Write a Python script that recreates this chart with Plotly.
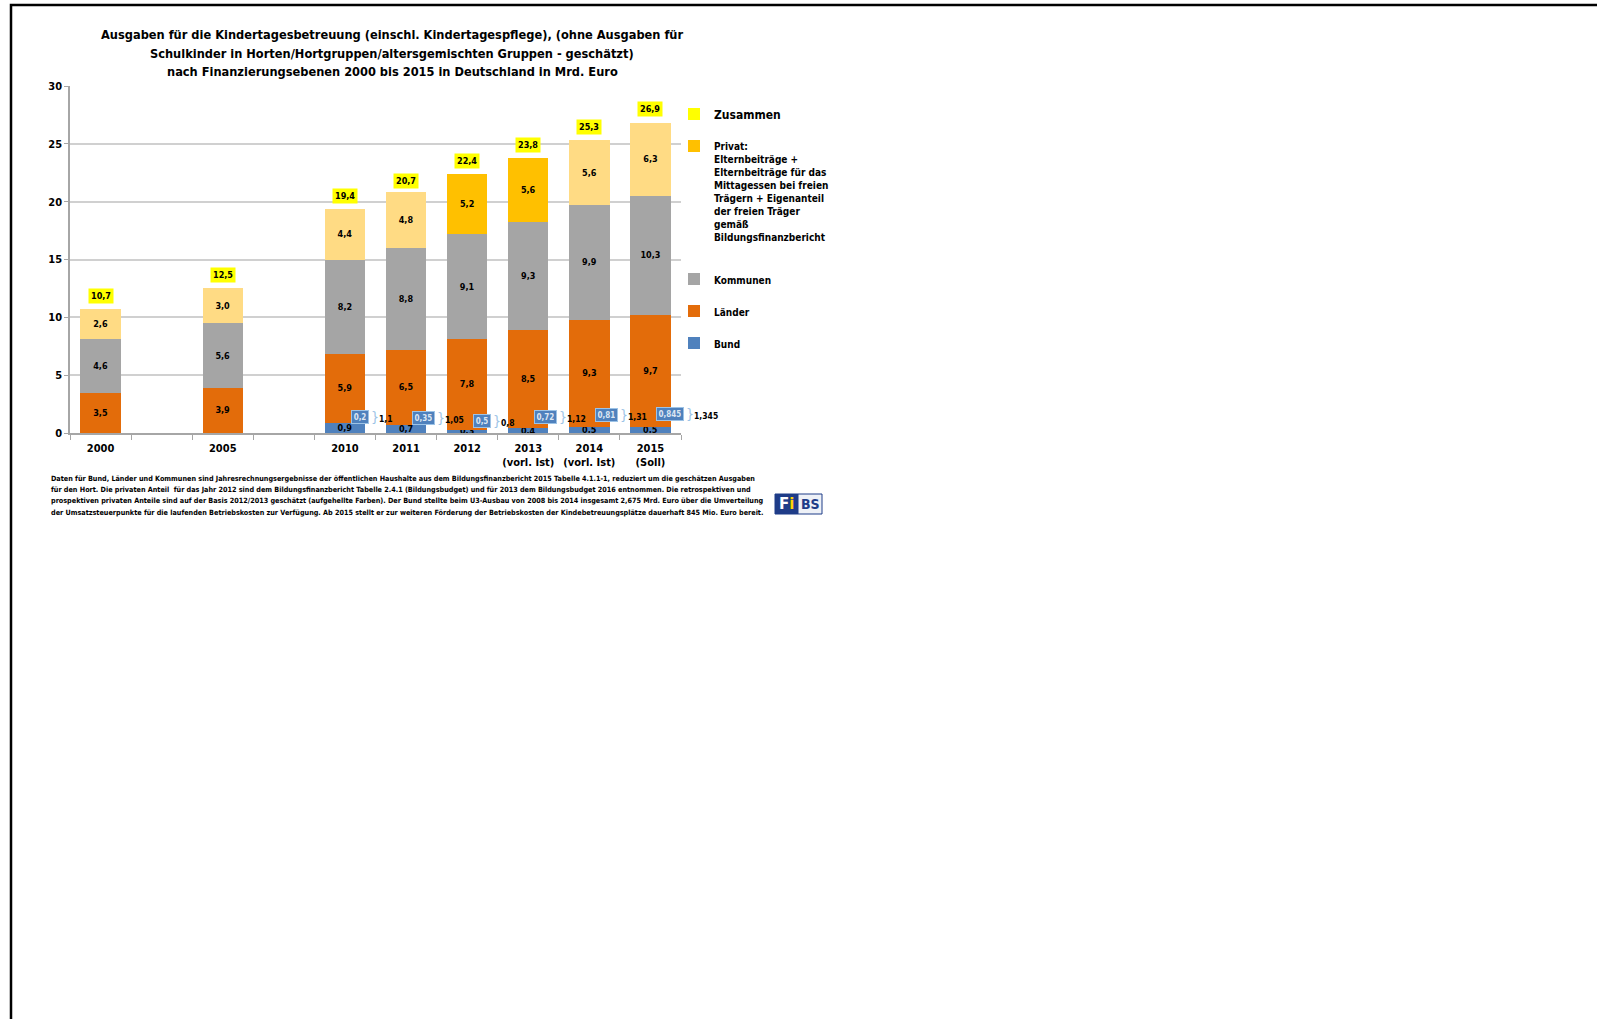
import plotly.graph_objects as go

# ---------------- data ----------------
categories = ["2000", "\u2002", "2005", "\u2003", "2010", "2011", "2012",
              "2013<br>(vorl. Ist)", "2014<br>(vorl. Ist)", "2015<br>(Soll)"]
bund = [None, None, None, None, 0.9, 0.7, 0.3, 0.4, 0.5, 0.5]
laender = [3.5, None, 3.9, None, 5.9, 6.5, 7.8, 8.5, 9.3, 9.7]
kommunen = [4.6, None, 5.6, None, 8.2, 8.8, 9.1, 9.3, 9.9, 10.3]
privat_geschaetzt = [2.6, None, 3.0, None, 4.4, 4.8, None, None, 5.6, 6.3]
privat_ist = [None, None, None, None, None, None, 5.2, 5.6, None, None]
zusammen = [10.7, None, 12.5, None, 19.4, 20.7, 22.4, 23.8, 25.3, 26.9]
bund_u3 = [None, None, None, None, 0.2, 0.35, 0.5, 0.72, 0.81, 0.845]
bund_gesamt = [None, None, None, None, 1.1, 1.05, 0.8, 1.12, 1.31, 1.345]

privat_name = ("Privat:<br>Elternbeiträge +<br>Elternbeiträge für das<br>Mittagessen bei freien"
               "<br>Trägern + Eigenanteil<br>der freien Träger<br>gemäß<br>Bildungsfinanzbericht<br>\u00a0")
title_lines = ["Ausgaben für die Kindertagesbetreuung (einschl. Kindertagespflege), (ohne Ausgaben für",
               "Schulkinder in Horten/Hortgruppen/altersgemischten Gruppen - geschätzt)",
               "nach Finanzierungsebenen 2000 bis 2015 in Deutschland in Mrd. Euro"]
footnote_lines = [
    "Daten für Bund, Länder und Kommunen sind Jahresrechnungsergebnisse der öffentlichen Haushalte aus dem Bildungsfinanzbericht 2015 Tabelle 4.1.1-1, reduziert um die geschätzen Ausgaben",
    "für den Hort. Die privaten Anteil  für das Jahr 2012 sind dem Bildungsfinanzbericht Tabelle 2.4.1 (Bildungsbudget) und für 2013 dem Bildungsbudget 2016 entnommen. Die retrospektiven und",
    "prospektiven privaten Anteile sind auf der Basis 2012/2013 geschätzt (aufgehellte Farben). Der Bund stellte beim U3-Ausbau von 2008 bis 2014 insgesamt 2,675 Mrd. Euro über die Umverteilung",
    "der Umsatzsteuerpunkte für die laufenden Betriebskosten zur Verfügung. Ab 2015 stellt er zur weiteren Förderung der Betriebskosten der Kindebetreuungsplätze dauerhaft 845 Mio. Euro bereit.",
]

# ---------------- styling ----------------
FONT = "DejaVu Sans Condensed, Liberation Sans Narrow, sans-serif"
W, H = 1597, 1019
L, R, T, B = 70, 681, 86, 433   # plot area in pixels


def px(x):
    return (x - L) / (R - L)


def py(y):
    return (B - y) / (B - T)


def de1(v):
    return "" if v is None else f"{v:.1f}".replace(".", ",")


def deg(v):
    return "" if v is None else f"{v:g}".replace(".", ",")


fig = go.Figure()

bar_common = dict(textposition="inside", insidetextanchor="middle", textangle=0,
                  constraintext="none", cliponaxis=False,
                  textfont=dict(family=FONT, size=9, color="black", weight="bold"),
                  hoverinfo="skip")

fig.add_trace(go.Bar(x=categories, y=bund, name="Bund", legendgroup="g1", legendrank=5,
                     marker=dict(color="#4F81BD", line=dict(width=0)),
                     text=[de1(v) for v in bund], **bar_common))
fig.add_trace(go.Bar(x=categories, y=laender, name="Länder", legendgroup="g2", legendrank=4,
                     marker=dict(color="#E36C0A", line=dict(width=0)),
                     text=[de1(v) for v in laender], **bar_common))
fig.add_trace(go.Bar(x=categories, y=kommunen, name="Kommunen", legendgroup="g3", legendrank=3,
                     marker=dict(color="#A5A5A5", line=dict(width=0)),
                     text=[de1(v) for v in kommunen], **bar_common))
fig.add_trace(go.Bar(x=categories, y=privat_geschaetzt, name="Privat (geschätzt)", legendgroup="g4",
                     showlegend=False, legendrank=2,
                     marker=dict(color="#FFDB84", line=dict(width=0)),
                     text=[de1(v) for v in privat_geschaetzt], **bar_common))
fig.add_trace(go.Bar(x=categories, y=privat_ist, name=privat_name, legendgroup="g4", legendrank=2,
                     marker=dict(color="#FFC000", line=dict(width=0)),
                     text=[de1(v) for v in privat_ist], **bar_common))
fig.add_trace(go.Bar(x=categories, y=[None] * len(categories),
                     name="<span style='font-size:12px'>Zusammen</span>",
                     legendgroup="g5", legendrank=1, marker=dict(color="#FFFF00", line=dict(width=0)),
                     hoverinfo="skip"))

annotations = []
# title lines
for line, yc in zip(title_lines, [34, 53, 72]):
    annotations.append(dict(x=px(392), y=py(yc), xref="paper", yref="paper", text=line,
                            showarrow=False, xanchor="center", yanchor="middle",
                            font=dict(family=FONT, size=12.7, color="black", weight="bold")))
# totals
for i, v in enumerate(zusammen):
    if v is None:
        continue
    annotations.append(dict(x=i, y=v, xref="x", yref="y", text=de1(v), showarrow=False,
                            yanchor="bottom", yshift=5, bgcolor="#FFFF00", borderpad=2,
                            font=dict(family=FONT, size=9, color="black", weight="bold")))
# Bund U3 callouts
for i, (u, g) in enumerate(zip(bund_u3, bund_gesamt)):
    if u is None:
        continue
    t = deg(u)
    wbox = 5 * len(t) - 2
    annotations.append(dict(x=i, y=g, xref="x", yref="y", text=t, showarrow=False,
                            xanchor="left", yanchor="middle", xshift=6, yshift=3, width=wbox,
                            align="center", bgcolor="#4F81BD", bordercolor="#9DC3E6",
                            borderwidth=1, borderpad=1.5,
                            font=dict(family=FONT, size=8, color="#DCE6F2", weight="bold")))
    annotations.append(dict(x=i, y=g, xref="x", yref="y",
                            text="<span style='color:#9DC3E6;font-size:14px;font-weight:normal'>}</span>" + deg(g),
                            showarrow=False, xanchor="left", yanchor="middle",
                            xshift=6 + wbox + 5, yshift=3,
                            font=dict(family=FONT, size=8.5, color="black", weight="bold")))
# footnote
for line, yc in zip(footnote_lines, [478, 489.5, 501, 512.5]):
    annotations.append(dict(x=px(49), y=py(yc), xref="paper", yref="paper", text=line,
                            showarrow=False, xanchor="left", yanchor="middle", align="left",
                            font=dict(family=FONT, size=7.2, color="black", weight="bold")))
# logo text
annotations.append(dict(x=px(786.5), y=py(504), xref="paper", yref="paper",
                        xanchor="center", yanchor="middle",
                        text="<span style='color:white'>F</span><span style='color:#FFD200'>i</span>",
                        showarrow=False, font=dict(family="DejaVu Sans", size=15, weight="bold")))
annotations.append(dict(x=px(810), y=py(504), xref="paper", yref="paper", text="BS",
                        xanchor="center", yanchor="middle",
                        showarrow=False, font=dict(family="DejaVu Sans Condensed", size=14,
                                                   color="#1F3C88", weight="bold")))

shapes = [
    # page frame
    dict(type="rect", xref="paper", yref="paper", x0=px(11), x1=px(1700), y0=py(1100), y1=py(5),
         line=dict(color="black", width=2.5), fillcolor="rgba(0,0,0,0)", layer="above"),
    # logo
    dict(type="rect", xref="paper", yref="paper", x0=px(775), x1=px(798), y0=py(514), y1=py(494),
         line=dict(color="#1F3C88", width=1), fillcolor="#1F3C88"),
    dict(type="rect", xref="paper", yref="paper", x0=px(798), x1=px(822), y0=py(514), y1=py(494),
         line=dict(color="#1F3C88", width=1), fillcolor="#EEF1F7"),
]

fig.update_layout(
    width=W, height=H,
    margin=dict(l=L, r=W - R, t=T, b=H - B, pad=0),
    paper_bgcolor="white", plot_bgcolor="white",
    barmode="stack", bargap=0.34,
    separators=",.",
    font=dict(family=FONT, color="black"),
    xaxis=dict(type="category", categoryorder="array", categoryarray=categories,
               range=[-0.5, len(categories) - 0.5],
               tickson="boundaries", ticks="outside", ticklen=5, tickcolor="#A6A6A6",
               ticklabelstandoff=4,
               showline=True, linecolor="#A6A6A6", linewidth=1.5, showgrid=False,
               tickfont=dict(family=FONT, size=11, color="black", weight="bold")),
    yaxis=dict(range=[0, 30], dtick=5, showgrid=True, gridcolor="#D0D0D0", gridwidth=1.5,
               showline=True, linecolor="#A6A6A6", linewidth=1.5, zeroline=False,
               ticks="outside", ticklen=4, tickcolor="#A6A6A6",
               tickfont=dict(family=FONT, size=11, color="black", weight="bold")),
    legend=dict(x=px(674), y=py(101), xanchor="left", yanchor="top",
                traceorder="grouped", tracegroupgap=13, valign="top",
                font=dict(family=FONT, size=10, color="black", weight="bold"),
                bgcolor="rgba(0,0,0,0)"),
    annotations=annotations,
    shapes=shapes,
    showlegend=True,
)

fig.write_html("out.html")
